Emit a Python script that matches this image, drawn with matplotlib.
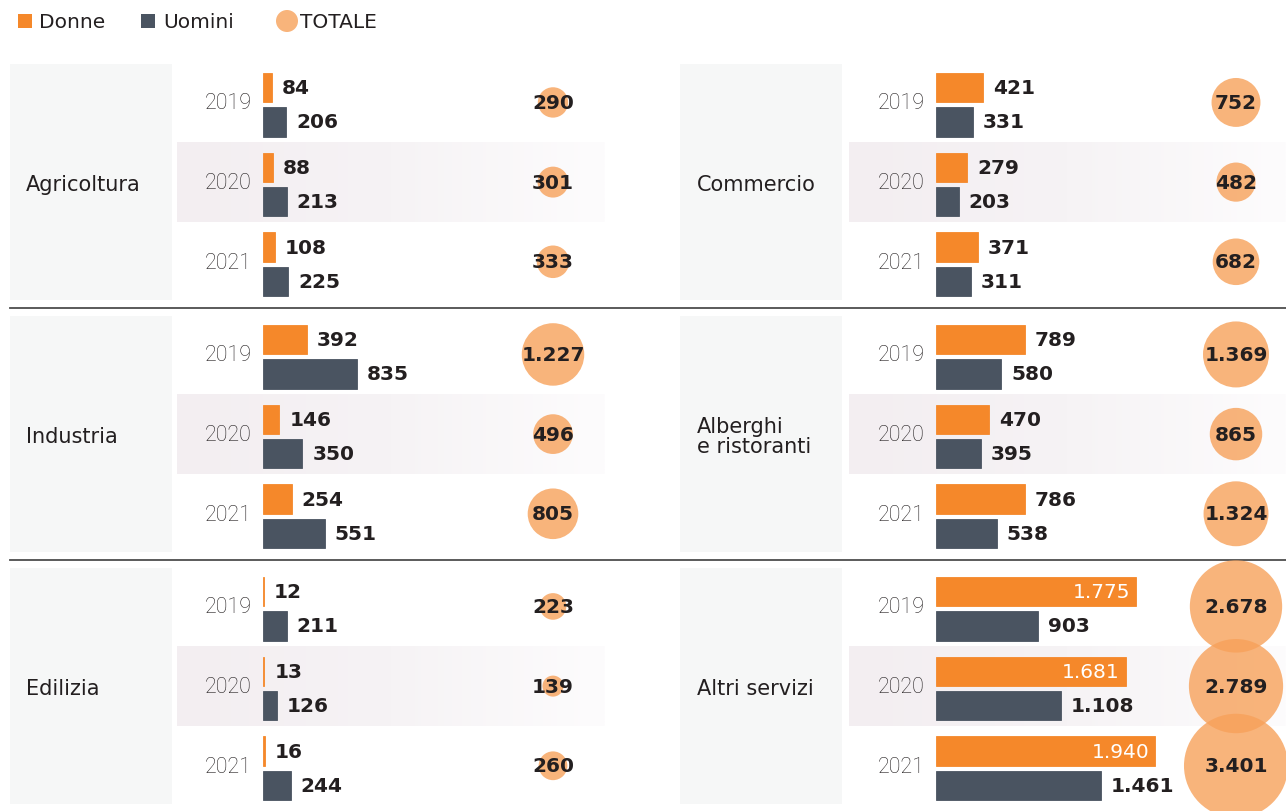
import numpy as np
import matplotlib.pyplot as plt
from matplotlib.colors import LinearSegmentedColormap
from matplotlib.transforms import blended_transform_factory

# Dati (migliaia)
settori = ["Agricoltura", "Commercio", "Industria", "Alberghi\ne ristoranti", "Edilizia", "Altri servizi"]
anni = ["2019", "2020", "2021"]
donne = [
    [84, 88, 108],
    [421, 279, 371],
    [392, 146, 254],
    [789, 470, 786],
    [12, 13, 16],
    [1775, 1681, 1940],
]
uomini = [
    [206, 213, 225],
    [331, 203, 311],
    [835, 350, 551],
    [580, 395, 538],
    [211, 126, 244],
    [903, 1108, 1461],
]
totale = [
    [290, 301, 333],
    [752, 482, 682],
    [1227, 496, 805],
    [1369, 865, 1324],
    [223, 139, 260],
    [2678, 2789, 3401],
]

C_DONNE = "#f5882a"
C_UOMINI = "#4a5461"
C_TOT = "#f7a15a"
C_TEXT = "#231f20"

W, H = 1286, 812
PX_PER_UNIT = 0.1128   # larghezza barre in pixel per unità
fmt = lambda v: f"{v:,}".replace(",", ".")

fig = plt.figure(figsize=(W / 100, H / 100), dpi=100)
bg = fig.add_axes([0, 0, 1, 1])
bg.set_xlim(0, W)
bg.set_ylim(H, 0)
bg.axis("off")

# legenda
bg.add_patch(plt.Rectangle((18, 15), 14, 14, color=C_DONNE, lw=0))
bg.text(39, 22, "Donne", fontsize=14.5, va="center", color=C_TEXT)
bg.add_patch(plt.Rectangle((141, 15), 14, 14, color=C_UOMINI, lw=0))
bg.text(163, 22, "Uomini", fontsize=14.5, va="center", color=C_TEXT)
bg.add_patch(plt.Circle((287, 22), 11, color=C_TOT, alpha=0.8, lw=0))
bg.text(300, 22, "TOTALE", fontsize=14.5, va="center", color=C_TEXT)

grad = np.linspace(0, 1, 256)[None, :]
band_cmap = LinearSegmentedColormap.from_list("band", ["#f3eef1", "#f6f3f5", "#fdfcfd"])
row_tops = [65, 317, 569]
cols = [dict(box=10, band=(177, 605), bar0=263, circ=553, lab=26),
        dict(box=680, band=(849, 1286), bar0=936, circ=1236, lab=697)]

for r, top in enumerate(row_tops):
    if r > 0:
        bg.plot([10, W], [top - 8, top - 8], color="#4d4d4d", lw=1.3)
    for c, col in enumerate(cols):
        k = r * 2 + c
        # riquadro grigio etichetta
        bg.add_patch(plt.Rectangle((col["box"], top), 162, 236, color="#f6f7f7", lw=0))
        # fascia 2020 sfumata
        b0, b1 = col["band"]
        bg.imshow(grad, extent=(b0, b1, top + 158, top + 78), cmap=band_cmap,
                  aspect="auto", zorder=0.5)
        bg.text(col["lab"], top + 120, settori[k], fontsize=15, va="center", ha="left",
                color=C_TEXT, linespacing=1.0)

        # asse delle barre
        w_px = col["circ"] - col["bar0"]
        ax = fig.add_axes([col["bar0"] / W, 1 - (top + 1 + 239) / H, w_px / W, 239 / H])
        ax.set_xlim(0, w_px / PX_PER_UNIT)
        ax.set_ylim(2.5, -0.5)
        ax.axis("off")
        ax.patch.set_alpha(0)
        y = np.arange(3)
        ax.barh(y - 0.215, donne[k], height=0.37, color=C_DONNE, ec=C_DONNE, lw=0.6)
        ax.barh(y + 0.215, uomini[k], height=0.37, color=C_UOMINI, ec=C_UOMINI, lw=0.6)
        for i in range(3):
            ax.annotate(anni[i], (0, i), xytext=(-8, 1.5), textcoords="offset points",
                        ha="right", va="center", fontsize=15.5, color=C_TEXT,
                        family="Roboto", fontweight="light", annotation_clip=False)
            if donne[k][i] >= 1000:
                ax.annotate(fmt(donne[k][i]), (donne[k][i], i - 0.215), xytext=(-4, 0),
                            textcoords="offset points", ha="right", va="center",
                            fontsize=14.5, color="white", annotation_clip=False)
            else:
                ax.annotate(fmt(donne[k][i]), (donne[k][i], i - 0.215), xytext=(7, 0),
                            textcoords="offset points", ha="left", va="center",
                            fontsize=14.5, fontweight="bold", color=C_TEXT, annotation_clip=False)
            ax.annotate(fmt(uomini[k][i]), (uomini[k][i], i + 0.215), xytext=(7, 0),
                        textcoords="offset points", ha="left", va="center",
                        fontsize=14.5, fontweight="bold", color=C_TEXT, annotation_clip=False)
        # cerchi totale (area proporzionale)
        tr = blended_transform_factory(ax.transAxes, ax.transData)
        ax.scatter([1, 1, 1], y - 0.03, s=np.array(totale[k]) * 1.65, color=C_TOT, alpha=0.8,
                   lw=0, transform=tr, clip_on=False, zorder=3)
        for i in range(3):
            ax.text(1, i - 0.03, fmt(totale[k][i]), transform=tr, ha="center", va="center",
                    fontsize=14.5, fontweight="bold", color=C_TEXT, zorder=4)

fig.savefig("out.png", dpi=100)
